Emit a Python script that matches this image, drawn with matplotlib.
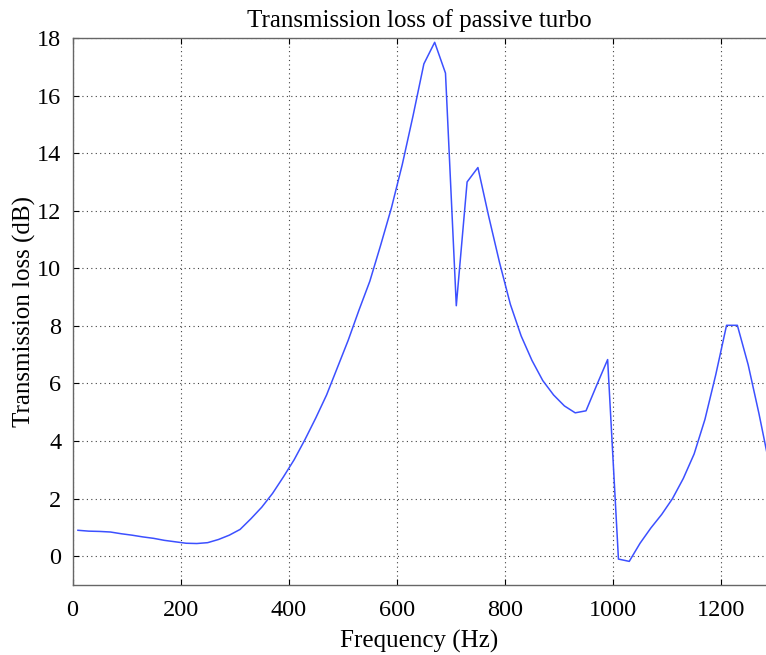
import matplotlib
matplotlib.use("Agg")
import matplotlib.pyplot as plt

plt.rcParams['font.family'] = ['Liberation Serif', 'DejaVu Serif']

# frequency samples (Hz) and transmission loss (dB)
freq = [10, 30, 50, 70, 90, 110, 130, 150, 170, 190,
        210, 230, 250, 270, 290, 310, 330, 350, 370, 390,
        410, 430, 450, 470, 490, 510, 530, 550, 570, 590,
        610, 630, 650, 670, 690, 710, 730, 750, 770, 790,
        810, 830, 850, 870, 890, 910, 930, 950, 970, 990,
        1010, 1030, 1050, 1070, 1090, 1110, 1130, 1150, 1170, 1190,
        1210, 1230, 1250, 1270, 1290]
tl = [0.90, 0.87, 0.86, 0.84, 0.78, 0.73, 0.67, 0.62, 0.55, 0.50,
      0.45, 0.44, 0.47, 0.58, 0.73, 0.93, 1.30, 1.70, 2.18, 2.75,
      3.35, 4.05, 4.80, 5.60, 6.55, 7.50, 8.55, 9.55, 10.80, 12.10,
      13.60, 15.30, 17.10, 17.85, 16.78, 8.70, 13.00, 13.50, 11.80, 10.20,
      8.75, 7.65, 6.80, 6.10, 5.60, 5.22, 4.98, 5.05, 5.95, 6.83,
      -0.10, -0.18, 0.45, 0.98, 1.45, 2.00, 2.70, 3.55, 4.75, 6.30,
      8.02, 8.02, 6.65, 4.95, 3.10]

xticks = [0, 200, 400, 600, 800, 1000, 1200]
yticks = [0, 2, 4, 6, 8, 10, 12, 14, 16, 18]

fig = plt.figure(figsize=(7.66, 6.55), dpi=100)
ax = fig.add_axes([0.0947, 0.1069, 0.9053, 0.8351])

ax.plot(freq, tl, color="#3c50ff", linewidth=1.1)

ax.set_xlim(0, 1283)
ax.set_ylim(-1, 18)
ax.set_xticks(xticks)
ax.set_yticks(yticks)
ax.tick_params(direction="in", length=4, width=0.8, labelsize=17.5,
               top=True, right=False, colors="black")
ax.tick_params(axis="x", pad=11)
ax.tick_params(axis="y", pad=8)
ax.grid(True, linestyle=(0, (1, 3)), color="0.25", linewidth=0.8)

for side in ["left", "bottom", "top"]:
    ax.spines[side].set_color("0.4")
    ax.spines[side].set_linewidth(1.0)
ax.spines["right"].set_visible(False)

ax.set_title("Transmission loss of passive turbo", fontsize=18, pad=8)
ax.set_xlabel("Frequency (Hz)", fontsize=18, labelpad=6)
ax.set_ylabel("Transmission loss (dB)", fontsize=18, labelpad=1)

fig.savefig("out.png", dpi=100)
